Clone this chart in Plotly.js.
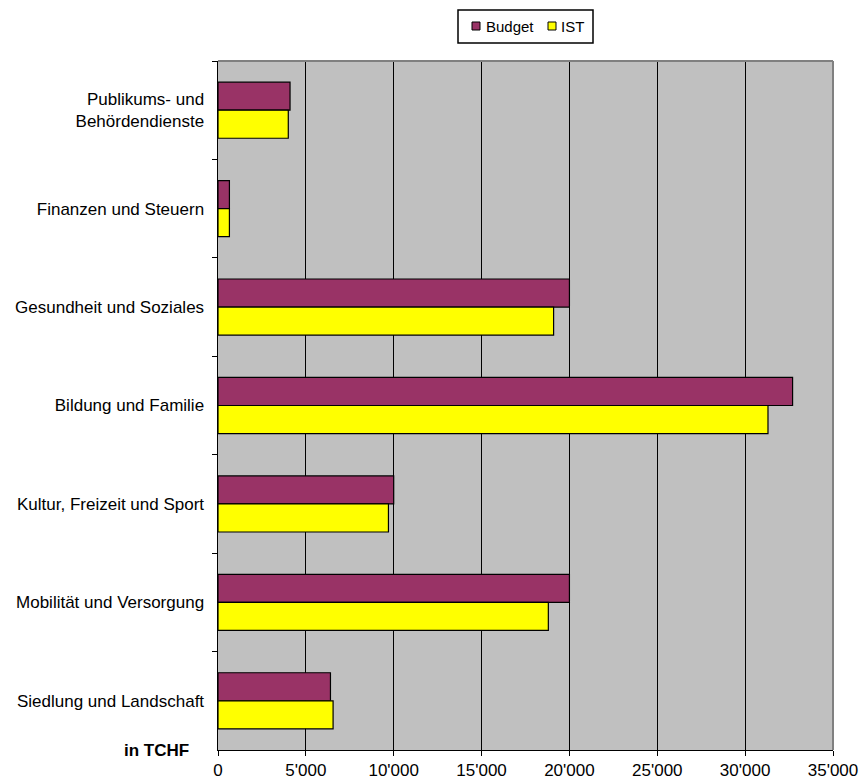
<!DOCTYPE html>
<html>
<head>
<meta charset="utf-8">
<script src="https://cdn.plot.ly/plotly-3.0.1.min.js"></script>
<style>html,body{margin:0;padding:0;background:#fff;}#chart{width:860px;height:782px;}</style>
</head>
<body>
<div id="chart"></div>
<script>
var categories = ["Publikums- und<br>Behördendienste", "Finanzen und Steuern", "Gesundheit und Soziales", "Bildung und Familie", "Kultur, Freizeit und Sport", "Mobilität und Versorgung", "Siedlung und Landschaft"];
var seriesNames = ["Budget", "IST"];
var seriesColors = ["#993366", "#FFFF00"];
var budgetValues = [4100, 650, 20000, 32700, 10000, 20000, 6400];
var istValues = [4000, 650, 19100, 31300, 9700, 18800, 6550];
var xTickValues = [0, 5000, 10000, 15000, 20000, 25000, 30000, 35000];

var FONT = "Liberation Sans, Arial, sans-serif";
var font = {family: FONT, size: 17, color: "#000"};

// plot area in pixels (for placing legend decoration)
var L = 218, R = 27, T = 61, B = 32, W = 860, H = 782;
var pw = W - L - R, ph = H - T - B;
function px(x) { return (x - L) / pw; }
function py(y) { return (H - B - y) / ph; }

var traces = [
  {type: "bar", orientation: "h", name: seriesNames[0], y: categories, x: budgetValues,
   marker: {color: seriesColors[0], line: {color: "#000", width: 1.2}}},
  {type: "bar", orientation: "h", name: seriesNames[1], y: categories, x: istValues,
   marker: {color: seriesColors[1], line: {color: "#000", width: 1.2}}}
];

var shapes = [
  {type: "line", xref: "paper", yref: "paper", x0: 0, x1: 1, y0: 1, y1: 1, line: {color: "#808080", width: 2}},
  {type: "line", xref: "paper", yref: "paper", x0: 1, x1: 1, y0: 0, y1: 1, line: {color: "#808080", width: 2}},
  // legend box
  {type: "rect", xref: "paper", yref: "paper", x0: px(458), x1: px(593), y0: py(43), y1: py(10),
   line: {color: "#000", width: 1.5}, fillcolor: "#fff"},
  {type: "rect", xref: "paper", yref: "paper", x0: px(472), x1: px(480), y0: py(30), y1: py(22),
   line: {color: "#000", width: 1}, fillcolor: seriesColors[0]},
  {type: "rect", xref: "paper", yref: "paper", x0: px(548), x1: px(556), y0: py(30), y1: py(22),
   line: {color: "#000", width: 1}, fillcolor: seriesColors[1]}
];

var annotations = [
  {text: "<b>in TCHF</b>", xref: "paper", yref: "paper", x: px(191), y: 0,
   xanchor: "right", yanchor: "middle", showarrow: false,
   font: {family: FONT, size: 17, color: "#000"}},
  {text: seriesNames[0], xref: "paper", yref: "paper", x: px(484), y: py(26.5),
   xanchor: "left", yanchor: "middle", showarrow: false,
   font: {family: FONT, size: 15, color: "#000"}},
  {text: seriesNames[1], xref: "paper", yref: "paper", x: px(559), y: py(26.5),
   xanchor: "left", yanchor: "middle", showarrow: false,
   font: {family: FONT, size: 15, color: "#000"}}
];

var layout = {
  width: W, height: H,
  margin: {l: L, r: R, t: T, b: B},
  paper_bgcolor: "#fff",
  plot_bgcolor: "#C0C0C0",
  font: font,
  separators: ".'",
  barmode: "group",
  bargap: 0.43,
  bargroupgap: 0,
  showlegend: false,
  xaxis: {range: [0, 35000], tickvals: xTickValues, tickformat: ",d",
          showgrid: true, gridcolor: "#000", gridwidth: 1,
          zeroline: false, showline: true, linecolor: "#000", linewidth: 1,
          ticks: "outside", ticklen: 5, tickcolor: "#000", tickfont: font, fixedrange: true},
  yaxis: {type: "category", autorange: "reversed", showgrid: false, zeroline: false,
          showline: true, linecolor: "#000", linewidth: 1.5,
          ticks: "outside", tickson: "boundaries", ticklen: 5, tickcolor: "#000",
          ticklabelstandoff: 9, tickfont: font, fixedrange: true},
  shapes: shapes,
  annotations: annotations
};

Plotly.newPlot("chart", traces, layout, {displayModeBar: false, staticPlot: true});
</script>
</body>
</html>
